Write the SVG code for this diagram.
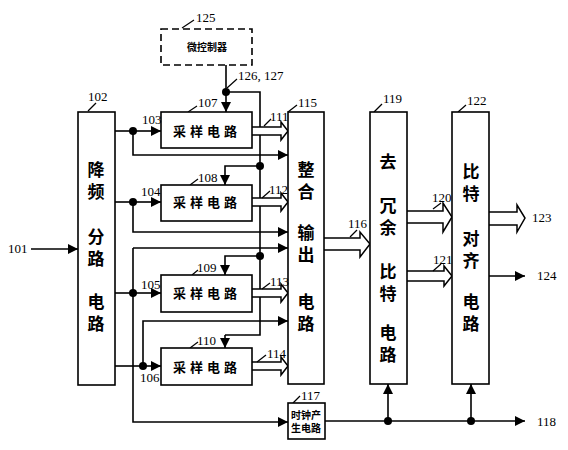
<svg xmlns="http://www.w3.org/2000/svg" width="568" height="450" viewBox="0 0 568 450">
<defs>
<marker id="ah" viewBox="0 0 10 10" refX="10" refY="5" markerWidth="10" markerHeight="10" markerUnits="userSpaceOnUse" orient="auto"><path d="M0,0 L10,5 L0,10 Z" fill="#000"/></marker>
<style>
.b{fill:#fff;stroke:#000;stroke-width:1.6}
.d{fill:#fff;stroke:#000;stroke-width:1.6;stroke-dasharray:7 4}
.l{fill:none;stroke:#000;stroke-width:1.6}
.a{fill:none;stroke:#000;stroke-width:1.6;marker-end:url(#ah)}
.h{fill:#fff;stroke:#000;stroke-width:1.5;stroke-linejoin:miter}
.k{fill:#000}
.n{font-family:"Liberation Serif","Noto Sans CJK SC",serif;font-size:13px;fill:#000}
.c{font-family:"Noto Sans CJK SC","Noto Sans CJK JP",sans-serif;font-weight:bold;font-size:17px;fill:#000;text-anchor:middle}
.s{font-family:"Noto Sans CJK SC","Noto Sans CJK JP",sans-serif;font-weight:bold;font-size:13px;fill:#000;text-anchor:middle}
.t{font-family:"Noto Sans CJK SC","Noto Sans CJK JP",sans-serif;font-weight:bold;font-size:10px;fill:#000;text-anchor:middle}
</style>
</defs>
<g id="connectors">
<line class="a" x1="31" y1="249" x2="78" y2="249"/>
<line class="l" x1="226" y1="65" x2="226" y2="92"/>
<line class="a" x1="226" y1="92" x2="226" y2="112"/>
<polyline class="l" points="226,92 260,92 260,335 225,335"/>
<line class="a" x1="225" y1="335" x2="225" y2="348"/>
<polyline class="a" points="260,166 225,166 225,185"/>
<polyline class="a" points="260,256 225,256 225,275"/>
<line class="l" x1="115" y1="131" x2="133" y2="131"/>
<line class="a" x1="133" y1="131" x2="161" y2="131"/>
<polyline class="a" points="133,131 133,155 288,155"/>
<line class="l" x1="115" y1="202" x2="133" y2="202"/>
<line class="a" x1="133" y1="202" x2="161" y2="202"/>
<polyline class="a" points="133,202 133,232 288,232"/>
<line class="l" x1="115" y1="293" x2="133" y2="293"/>
<line class="a" x1="133" y1="293" x2="161" y2="293"/>
<line class="a" x1="133" y1="248" x2="288" y2="248"/>
<polyline class="a" points="133,248 133,422 288,422"/>
<line class="l" x1="115" y1="366" x2="143" y2="366"/>
<line class="a" x1="143" y1="366" x2="161" y2="366"/>
<polyline class="a" points="143,366 143,321 288,321"/>
<line class="a" x1="325" y1="421" x2="525" y2="421"/>
<line class="a" x1="388" y1="421" x2="388" y2="384"/>
<line class="a" x1="471" y1="421" x2="471" y2="384"/>
<line class="a" x1="489" y1="276" x2="525" y2="276"/>
<path class="h" d="M252,127 H281 V122 L288,131 L281,140 V135 H252"/>
<path class="h" d="M252,198 H281 V193 L288,202 L281,211 V206 H252"/>
<path class="h" d="M252,289 H281 V284 L288,293 L281,302 V297 H252"/>
<path class="h" d="M252,362 H281 V357 L288,366 L281,375 V370 H252"/>
<path class="h" d="M324,238 H360 V232 L370,244 L360,257 V250 H324"/>
<path class="h" d="M407,211 H443 V203 L452,217 L443,232 V223 H407"/>
<path class="h" d="M407,271 H444 V266 L452,276 L444,286 V281 H407"/>
<path class="h" d="M489,212 H517 V205 L525,218 L517,232 V225 H489"/>
<circle class="k" cx="226" cy="92" r="4"/>
<circle class="k" cx="260" cy="166" r="4"/>
<circle class="k" cx="260" cy="256" r="4"/>
<circle class="k" cx="133" cy="131" r="4"/>
<circle class="k" cx="133" cy="202" r="4"/>
<circle class="k" cx="133" cy="293" r="4"/>
<circle class="k" cx="143" cy="366" r="4"/>
<circle class="k" cx="388" cy="421" r="4"/>
<circle class="k" cx="471" cy="421" r="4"/>
<g class="l" style="stroke-width:1.2">
<line x1="182" y1="28" x2="194" y2="20"/>
<line x1="227" y1="88" x2="237" y2="79"/>
<line x1="88" y1="111" x2="96" y2="103"/>
<line x1="188" y1="112" x2="197" y2="106"/>
<line x1="264" y1="126" x2="271" y2="119"/>
<line x1="288" y1="112" x2="297" y2="105"/>
<line x1="374" y1="112" x2="382" y2="104"/>
<line x1="458" y1="112" x2="466" y2="105"/>
<line x1="190" y1="185" x2="198" y2="179"/>
<line x1="262" y1="198" x2="270" y2="191"/>
<line x1="192" y1="275" x2="198" y2="270"/>
<line x1="262" y1="289" x2="270" y2="283"/>
<line x1="190" y1="348" x2="198" y2="342"/>
<line x1="257" y1="362" x2="266" y2="355"/>
<line x1="350" y1="237" x2="357" y2="230"/>
<line x1="433" y1="209" x2="441" y2="203"/>
<line x1="433" y1="271" x2="441" y2="264"/>
<line x1="293" y1="403" x2="300" y2="396"/>
</g>
</g>
<g id="n125"><rect class="d" x="161" y="29" width="91" height="36"/><text class="t" x="207" y="51">微控制器</text></g>
<g id="n102"><rect class="b" x="78" y="112" width="37" height="273"/>
<text class="c"><tspan x="96" y="176">降</tspan><tspan x="96" y="198">频</tspan><tspan x="96" y="243">分</tspan><tspan x="96" y="265">路</tspan><tspan x="96" y="308">电</tspan><tspan x="96" y="330">路</tspan></text></g>
<g id="n107"><rect class="b" x="161" y="112" width="91" height="36"/><text class="s" x="207" y="136" letter-spacing="4">采样电路</text></g>
<g id="n108"><rect class="b" x="161" y="185" width="91" height="36"/><text class="s" x="207" y="207" letter-spacing="4">采样电路</text></g>
<g id="n109"><rect class="b" x="161" y="275" width="91" height="37"/><text class="s" x="207" y="298" letter-spacing="4">采样电路</text></g>
<g id="n110"><rect class="b" x="161" y="348" width="91" height="37"/><text class="s" x="207" y="372" letter-spacing="4">采样电路</text></g>
<g id="n115"><rect class="b" x="288" y="112" width="36" height="272"/>
<text class="c"><tspan x="306" y="176">整</tspan><tspan x="306" y="198">合</tspan><tspan x="306" y="239">输</tspan><tspan x="306" y="261">出</tspan><tspan x="306" y="308">电</tspan><tspan x="306" y="330">路</tspan></text></g>
<g id="n119"><rect class="b" x="370" y="112" width="37" height="272"/>
<text class="c"><tspan x="388" y="168">去</tspan><tspan x="388" y="212">冗</tspan><tspan x="388" y="234">余</tspan><tspan x="388" y="278">比</tspan><tspan x="388" y="300">特</tspan><tspan x="388" y="339">电</tspan><tspan x="388" y="361">路</tspan></text></g>
<g id="n122"><rect class="b" x="452" y="112" width="37" height="272"/>
<text class="c"><tspan x="471" y="178">比</tspan><tspan x="471" y="200">特</tspan><tspan x="471" y="245">对</tspan><tspan x="471" y="267">齐</tspan><tspan x="471" y="308">电</tspan><tspan x="471" y="330">路</tspan></text></g>
<g id="n117"><rect class="b" x="288" y="403" width="37" height="36"/>
<text class="t"><tspan x="306" y="419">时钟产</tspan><tspan x="306" y="432">生电路</tspan></text></g>
<g id="labels">
<text class="n" x="196" y="22">125</text>
<text class="n" x="238" y="80">126, 127</text>
<text class="n" x="88" y="101">102</text>
<text class="n" x="198" y="107">107</text>
<text class="n" x="142" y="124">103</text>
<text class="n" x="270" y="121">111</text>
<text class="n" x="298" y="107">115</text>
<text class="n" x="383" y="103">119</text>
<text class="n" x="467" y="105">122</text>
<text class="n" x="198" y="182">108</text>
<text class="n" x="141" y="196">104</text>
<text class="n" x="269" y="194">112</text>
<text class="n" x="197" y="272">109</text>
<text class="n" x="141" y="289">105</text>
<text class="n" x="270" y="286">113</text>
<text class="n" x="197" y="345">110</text>
<text class="n" x="140" y="382">106</text>
<text class="n" x="267" y="358">114</text>
<text class="n" x="348" y="228">116</text>
<text class="n" x="432" y="202">120</text>
<text class="n" x="433" y="264">121</text>
<text class="n" x="532" y="222">123</text>
<text class="n" x="537" y="280">124</text>
<text class="n" x="301" y="400">117</text>
<text class="n" x="537" y="426">118</text>
<text class="n" x="8" y="253">101</text>
</g>
</svg>
